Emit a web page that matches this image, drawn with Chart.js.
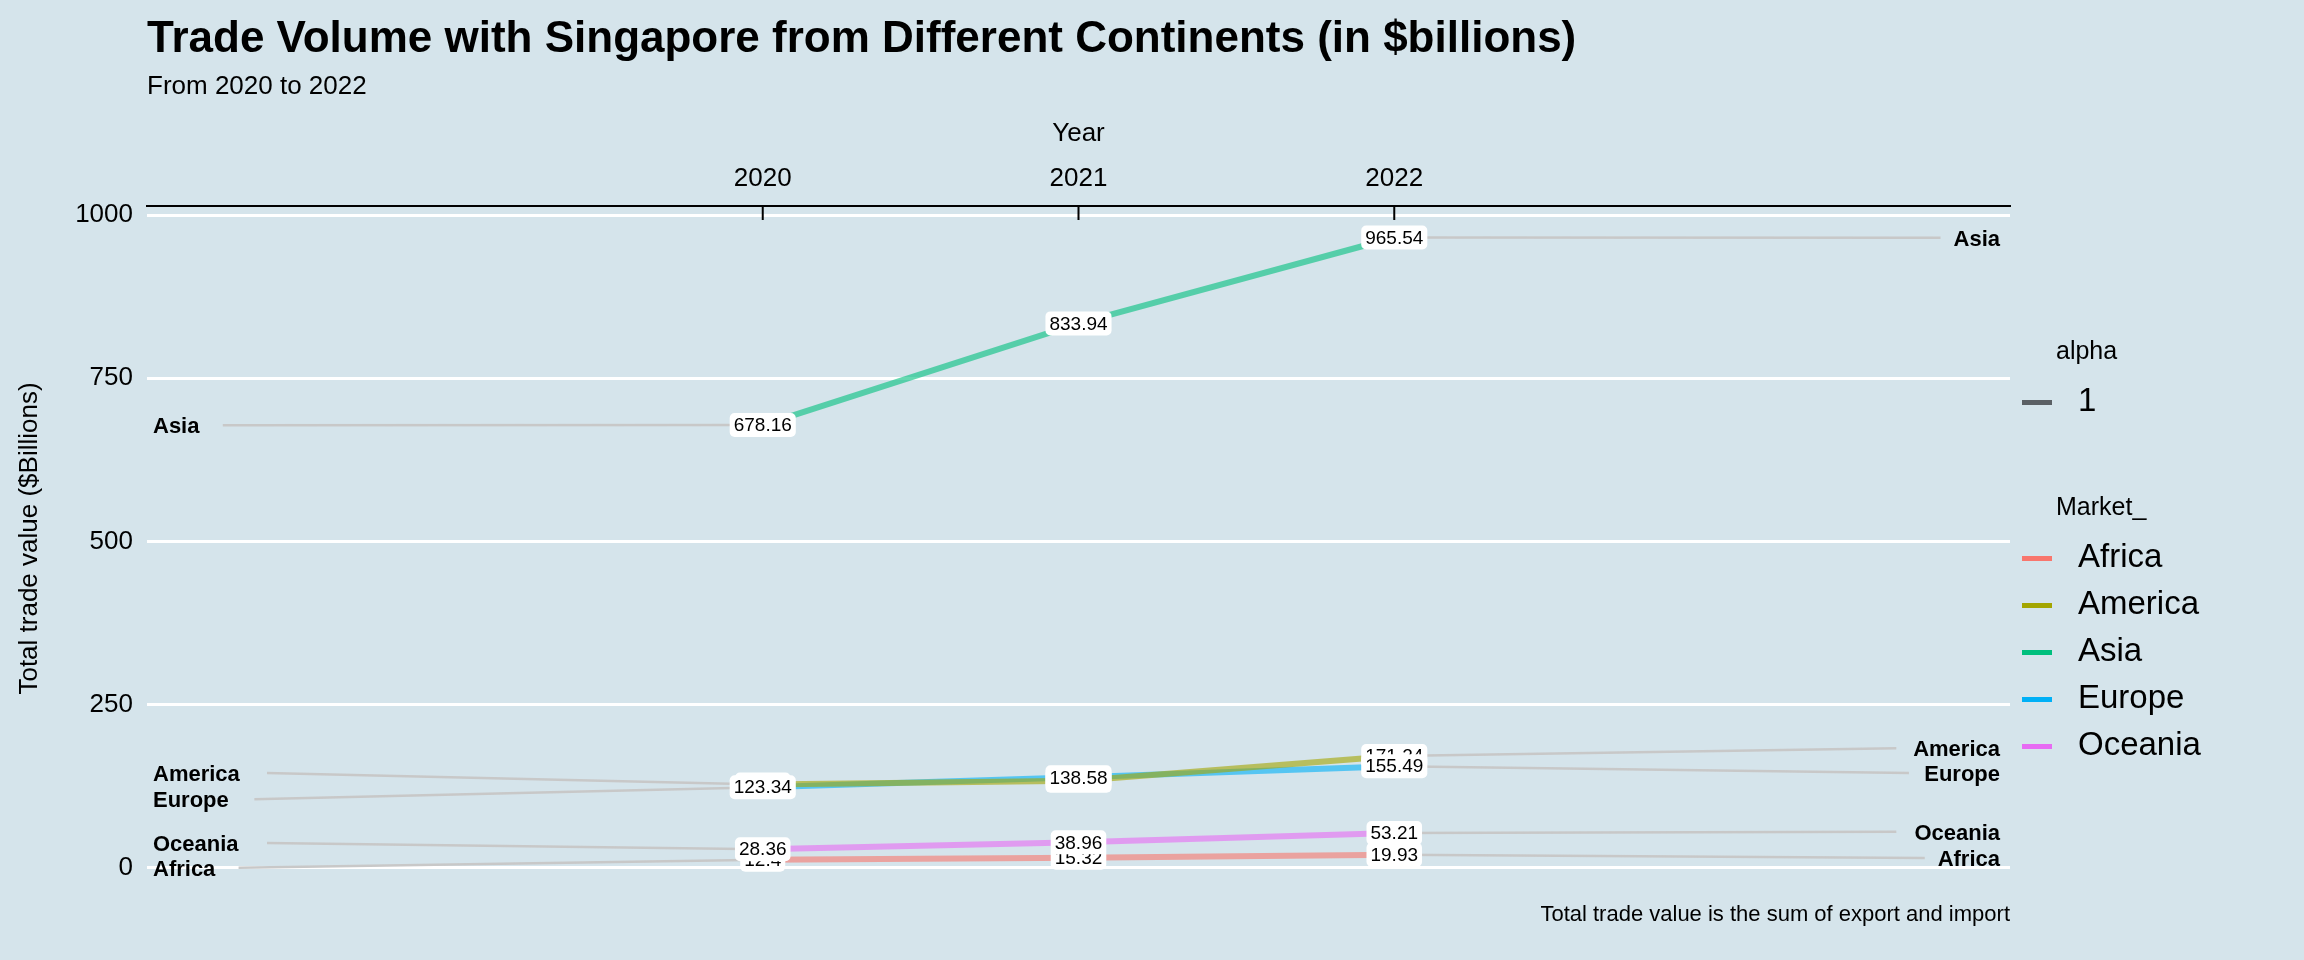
<!DOCTYPE html>
<html>
<head>
<meta charset="utf-8">
<script src="https://cdn.jsdelivr.net/npm/chart.js@4"></script>
<style>
  body { margin: 0; background: #d5e4eb; font-family: "Liberation Sans", Arial, sans-serif; }
  #wrap { position: relative; width: 2304px; height: 960px; }
  #title { position: absolute; left: 147px; top: 12px; font-size: 44px; font-weight: bold; }
  #subtitle { position: absolute; left: 147px; top: 70px; font-size: 26px; }
  #caption { position: absolute; right: 294px; top: 901px; font-size: 22px; }
  .lg { position: absolute; left: 2056px; font-size: 25px; }
  .key { position: absolute; left: 2022px; font-size: 33px; line-height: 40px; }
  .key span { display: inline-block; width: 30px; height: 5px; vertical-align: middle; margin-right: 26px; }
</style>
</head>
<body>
<div id="wrap">
  <canvas id="c" width="2304" height="960"></canvas>
  <div id="title">Trade Volume with Singapore from Different Continents (in $billions)</div>
  <div id="subtitle">From 2020 to 2022</div>
  <div id="caption">Total trade value is the sum of export and import</div>
  <div class="lg" style="top:336px">alpha</div>
  <div class="key" style="top:380px"><span style="background:#5b6065"></span>1</div>
  <div class="lg" style="top:492px">Market_</div>
  <div id="keys"></div>
</div>
<script>
// data
const years = [2020, 2021, 2022];
const markets = ['Africa', 'America', 'Asia', 'Europe', 'Oceania'];
const africa = [12.4, 15.32, 19.93];
const america = [127.5, 133.19, 171.24];
const asia = [678.16, 833.94, 965.54];
const europe = [123.34, 138.58, 155.49];
const oceania = [28.36, 38.96, 53.21];
const seriesValues = [africa, america, asia, europe, oceania];
// where the repelled name labels sit (value units)
const leftLabelY = [0, 145, 678, 105, 38];
const rightLabelY = [15, 183, 965, 145, 55];
const yTicks = [0, 250, 500, 750, 1000];

const colors = ['#F8766D', '#A3A500', '#00BF7D', '#00B0F6', '#E76BF3'];
const alpha = c => c + '99';
const FONT = '"Liberation Sans", Arial';

const keys = document.getElementById('keys');
markets.forEach((m, i) => {
    const d = document.createElement('div');
    d.className = 'key';
    d.style.top = (536 + i * 47) + 'px';
    d.innerHTML = `<span style="background:${colors[i]}"></span>${m}`;
    keys.appendChild(d);
});

// connector line ends just past the name text
const textW = { Africa: 0.22, America: 0.31, Asia: 0.17, Europe: 0.27, Oceania: 0.31 };

const datasets = [];
markets.forEach((m, i) => {
    datasets.push({
        data: [{ x: 2018.12 + textW[m], y: leftLabelY[i] }, { x: years[0], y: seriesValues[i][0] }],
        borderColor: '#c8c8c8', borderWidth: 2.5, pointRadius: 0
    });
    datasets.push({
        data: [{ x: years[2], y: seriesValues[i][2] }, { x: 2023.9 - textW[m], y: rightLabelY[i] }],
        borderColor: '#c8c8c8', borderWidth: 2.5, pointRadius: 0
    });
});
markets.forEach((m, i) => {
    datasets.push({
        data: years.map((y, j) => ({ x: y, y: seriesValues[i][j] })),
        borderColor: alpha(colors[i]), borderWidth: 6, pointRadius: 0
    });
});

const labelPlugin = {
    id: 'labels',
    afterDatasetsDraw(chart) {
        const ctx = chart.ctx;
        const xs = chart.scales.x, ys = chart.scales.y, a = chart.chartArea;
        ctx.save();
        // top axis ticks pointing into plot
        ctx.strokeStyle = '#000'; ctx.lineWidth = 2;
        years.forEach(y => {
            const px = xs.getPixelForValue(y);
            ctx.beginPath(); ctx.moveTo(px, a.top); ctx.lineTo(px, a.top + 14); ctx.stroke();
        });
        // axis title
        ctx.fillStyle = '#000';
        ctx.font = '26px ' + FONT;
        ctx.textAlign = 'center'; ctx.textBaseline = 'middle';
        ctx.fillText('Year', xs.getPixelForValue(years[1]), 134);
        // value labels
        ctx.font = '19px ' + FONT;
        seriesValues.forEach(vals => {
            vals.forEach((v, j) => {
                const px = xs.getPixelForValue(years[j]), py = ys.getPixelForValue(v);
                const t = String(v), w = ctx.measureText(t).width + 8;
                ctx.fillStyle = '#fff';
                ctx.beginPath(); ctx.roundRect(px - w / 2, py - 12, w, 24, 5); ctx.fill();
                ctx.fillStyle = '#000'; ctx.fillText(t, px, py + 1);
            });
        });
        // names
        ctx.font = 'bold 22px ' + FONT;
        markets.forEach((m, i) => {
            ctx.textAlign = 'left';
            ctx.fillText(m, a.left + 6, ys.getPixelForValue(leftLabelY[i]) + 2);
            ctx.textAlign = 'right';
            ctx.fillText(m, a.right - 10, ys.getPixelForValue(rightLabelY[i]) + 2);
        });
        ctx.restore();
    }
};

new Chart(document.getElementById('c'), {
    type: 'line',
    data: { datasets: datasets },
    options: {
        responsive: false,
        animation: false,
        layout: { padding: { left: 14, top: 0, right: 294, bottom: 89 } },
        plugins: { legend: { display: false }, tooltip: { enabled: false } },
        scales: {
            x: {
                type: 'linear', position: 'top', min: 2018.05, max: 2023.95,
                afterBuildTicks: s => { s.ticks = years.map(v => ({ value: v })); },
                afterFit: s => { s.height = 206; },
                ticks: { color: '#000', font: { size: 26, family: FONT }, callback: v => String(v), padding: 4 },
                grid: { display: false },
                border: { display: true, color: '#000', width: 2 }
            },
            y: {
                min: -5, max: 1013.8,
                afterBuildTicks: s => { s.ticks = yTicks.map(v => ({ value: v })); },
                afterFit: s => { s.width = 133; },
                ticks: { color: '#000', font: { size: 26, family: FONT }, padding: 14, callback: v => String(v) },
                grid: { color: '#ffffff', lineWidth: 3, drawTicks: false },
                border: { display: false },
                title: { display: true, text: 'Total trade value ($Billions)', color: '#000', font: { size: 26, family: FONT }, padding: 0 }
            }
        }
    },
    plugins: [labelPlugin]
});
</script>
</body>
</html>
